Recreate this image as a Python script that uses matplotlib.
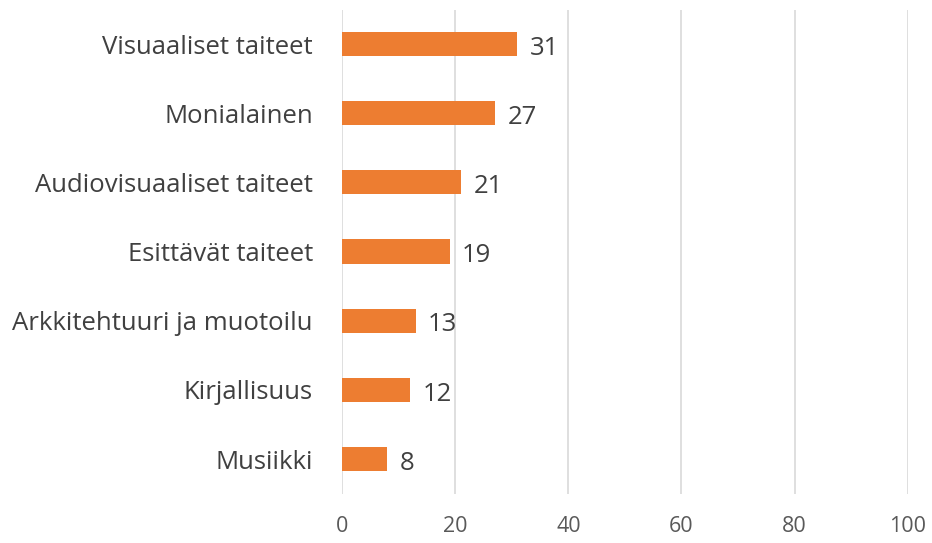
import matplotlib
matplotlib.use('Agg')
import matplotlib.pyplot as plt

categories = ['Visuaaliset taiteet', 'Monialainen', 'Audiovisuaaliset taiteet',
              'Esittävät taiteet', 'Arkkitehtuuri ja muotoilu', 'Kirjallisuus', 'Musiikki']
values = [31, 27, 21, 19, 13, 12, 8]
xticks = [0, 20, 40, 60, 80, 100]

plt.rcParams['font.family'] = ['Open Sans', 'DejaVu Sans']

fig = plt.figure(figsize=(9.32, 5.43), dpi=100)
ax = fig.add_axes([0.367, 0.091, 0.607, 0.8915])

pos = list(range(len(categories)))[::-1]
bars = ax.barh(pos, values, height=0.35, color='#ED7D31', zorder=3)
for p, v in zip(pos, values):
    ax.annotate(str(v), (v, p), xytext=(9, -3), textcoords='offset points',
                va='center', ha='left', fontsize=18.5, color='#404040')

ax.set_xlim(0, 100)
ax.set_ylim(-0.5, len(categories) - 0.5)
ax.set_xticks(xticks)
ax.set_xticklabels([str(t) for t in xticks], fontsize=15.5, color='#595959')
ax.set_yticks(pos)
ax.set_yticklabels(categories, fontsize=18.5, color='#404040')
ax.tick_params(length=0)
ax.tick_params(axis='x', pad=16)
ax.tick_params(axis='y', pad=21)
ax.grid(axis='x', color='#D9D9D9', linewidth=1.2, zorder=0)
for s in ax.spines.values():
    s.set_visible(False)

fig.savefig('out.png', dpi=100)
